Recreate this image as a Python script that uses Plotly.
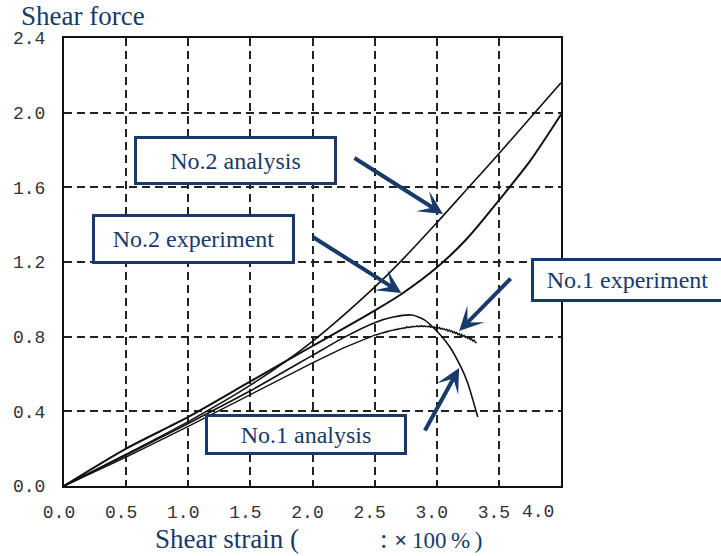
import plotly.graph_objects as go

# ---------------- data ----------------
no2_analysis_x = [0.0, 0.5, 1.0, 1.5, 2.0, 2.5, 2.72, 3.0, 3.25, 3.5, 3.75, 4.0]
no2_analysis_y = [0.0, 0.17, 0.345, 0.54, 0.775, 1.065, 1.21, 1.41, 1.595, 1.78, 1.97, 2.16]

no2_exp_x = [0.0, 0.5, 1.0, 1.5, 2.0, 2.5, 2.72, 3.0, 3.25, 3.5, 3.75, 4.0]
no2_exp_y = [0.0, 0.20, 0.37, 0.56, 0.75, 0.94, 1.03, 1.17, 1.33, 1.53, 1.74, 1.99]

no1_analysis_x = [0.0, 0.5, 1.0, 1.5, 2.0, 2.25, 2.5, 2.65, 2.8, 2.9, 3.0, 3.1, 3.2, 3.25, 3.3, 3.33]
no1_analysis_y = [0.0, 0.165, 0.335, 0.51, 0.70, 0.795, 0.875, 0.905, 0.916, 0.89, 0.83, 0.75, 0.63, 0.55, 0.44, 0.37]

no1_exp_x = [0.0, 0.5, 1.0, 1.5, 2.0, 2.25, 2.40,
             2.50, 2.51, 2.52, 2.53, 2.54, 2.55, 2.56, 2.57, 2.58, 2.59,
             2.60, 2.61, 2.62, 2.63, 2.64, 2.65, 2.66, 2.67, 2.68, 2.69,
             2.70, 2.71, 2.72, 2.73, 2.74, 2.75, 2.76, 2.77, 2.78, 2.79,
             2.80, 2.81, 2.82, 2.83, 2.84, 2.85, 2.86, 2.87, 2.88, 2.89,
             2.90, 2.91, 2.92, 2.93, 2.94, 2.95, 2.96, 2.97, 2.98, 2.99,
             3.00, 3.01, 3.02, 3.03, 3.04, 3.05, 3.06, 3.07, 3.08, 3.09,
             3.10, 3.11, 3.12, 3.13, 3.14, 3.15, 3.16, 3.17, 3.18, 3.19,
             3.20, 3.21, 3.22, 3.23, 3.24, 3.25, 3.26, 3.27, 3.28, 3.29,
             3.30, 3.31, 3.32]
no1_exp_y = [0.0, 0.155, 0.32, 0.49, 0.66, 0.74, 0.782,
             0.809, 0.811, 0.810, 0.815, 0.814, 0.818, 0.821, 0.820, 0.825, 0.823,
             0.829, 0.828, 0.832, 0.831, 0.835, 0.834, 0.838, 0.836, 0.841, 0.839,
             0.844, 0.842, 0.846, 0.844, 0.849, 0.846, 0.853, 0.848, 0.852, 0.850,
             0.855, 0.852, 0.856, 0.853, 0.858, 0.854, 0.857, 0.855, 0.859, 0.854,
             0.858, 0.853, 0.856, 0.852, 0.857, 0.850, 0.854, 0.849, 0.853, 0.847,
             0.851, 0.845, 0.849, 0.841, 0.846, 0.839, 0.842, 0.835, 0.840, 0.830,
             0.836, 0.827, 0.832, 0.821, 0.827, 0.817, 0.822, 0.811, 0.817, 0.806,
             0.812, 0.801, 0.807, 0.796, 0.801, 0.790, 0.796, 0.784, 0.789, 0.777,
             0.782, 0.771, 0.765]

x_tick_vals = [0.0, 0.5, 1.0, 1.5, 2.0, 2.5, 3.0, 3.5]
x_tick_text = ["0.0", "0.5", "1.0", "1.5", "2.0", "2.5", "3.0", "3.5"]
x_last_tick = "4.0"
y_tick_vals = [0.0, 0.4, 0.8, 1.2, 1.6, 2.0, 2.4]
y_tick_text = ["0.0", "0.4", "0.8", "1.2", "1.6", "2.0", "2.4"]

labels = ["No.2 analysis", "No.2 experiment", "No.1 experiment", "No.1 analysis"]

# ---------------- figure ----------------
NAVY = "#173a6a"
INK = "#111111"
TICK = "#333333"
SERIF = "Liberation Serif, Times New Roman, serif"
MONO = "Liberation Mono, Courier New, monospace"

fig = go.Figure()
fig.add_trace(go.Scatter(x=no2_analysis_x, y=no2_analysis_y, mode="lines",
                         line=dict(color=INK, width=1.6, shape="spline", smoothing=0.8),
                         name=labels[0]))
fig.add_trace(go.Scatter(x=no2_exp_x, y=no2_exp_y, mode="lines",
                         line=dict(color=INK, width=2.0, shape="spline", smoothing=0.8),
                         name=labels[1]))
fig.add_trace(go.Scatter(x=no1_analysis_x, y=no1_analysis_y, mode="lines",
                         line=dict(color=INK, width=1.6, shape="spline", smoothing=0.6),
                         name=labels[3]))
fig.add_trace(go.Scatter(x=no1_exp_x, y=no1_exp_y, mode="lines",
                         line=dict(color=INK, width=1.4),
                         name=labels[2]))

L, R, T, B = 64, 160, 38, 70
W, H = 721, 556
PW, PH = W - L - R, H - T - B


def px(xp):
    return (xp - L) / PW


def py(yp):
    return (H - B - yp) / PH


ann = []
# label boxes: (text, centre x px, centre y px, width, height)
boxes = [
    (labels[0], 235, 160, 200, 46),
    (labels[1], 193, 238.5, 200, 47),
    (labels[2], 627, 279.5, 190, 41),
    (labels[3], 305.5, 434, 199, 38),
]
for txt, cx, cy, bw, bh in boxes:
    ann.append(dict(text=txt, xref="paper", yref="paper", x=px(cx), y=py(cy),
                    xanchor="center", yanchor="middle", showarrow=False,
                    width=bw - 3, height=bh - 3, borderpad=0,
                    bordercolor=NAVY, borderwidth=3, bgcolor="white",
                    font=dict(family=SERIF, size=24, color=NAVY)))

# arrows: tip in data coords, tail offset in px
arrows = [
    (3.05, 1.457, -90, -57),
    (2.715, 1.034, -90, -57),
    (3.18, 0.83, 53, -54),
    (3.18, 0.632, -35, 64),
]
for x, y, ax, ay in arrows:
    ann.append(dict(x=x, y=y, xref="x", yref="y", ax=ax, ay=ay, text="",
                    showarrow=True, arrowhead=3, arrowsize=1, arrowwidth=4,
                    arrowcolor=NAVY, standoff=0))

# axis titles
ann.append(dict(text="Shear force", xref="paper", yref="paper", x=px(19), y=py(16),
                xanchor="left", yanchor="middle", showarrow=False,
                font=dict(family=SERIF, size=27, color=NAVY)))
ann.append(dict(text="Shear strain (\u2003\u2003\u2003: "
                     "<span style='font-size:23px'><b>×</b>\u2009100\u2009%\u2009)</span>",
                xref="paper", yref="paper", x=px(153), y=py(539),
                xanchor="left", yanchor="middle", showarrow=False,
                font=dict(family=SERIF, size=27, color=NAVY)))
# squeezed last x tick label
ann.append(dict(text=x_last_tick, xref="paper", yref="paper", x=px(538), y=py(512),
                xanchor="center", yanchor="middle", showarrow=False,
                font=dict(family=MONO, size=18, color=TICK)))

fig.update_layout(
    width=W, height=H,
    margin=dict(l=L, r=R, t=T, b=B, pad=0),
    paper_bgcolor="white", plot_bgcolor="white",
    showlegend=False,
    annotations=ann,
)
fig.update_xaxes(range=[0, 4], tickvals=x_tick_vals, ticktext=x_tick_text,
                 showgrid=True, gridcolor="#222222", gridwidth=2, griddash="8px,5px",
                 showline=True, linecolor=INK, linewidth=2, mirror=True,
                 zeroline=False, ticks="", ticklabelstandoff=8, ticklabelshift=-5,
                 tickfont=dict(family=MONO, size=18, color=TICK))
fig.update_yaxes(range=[0, 2.4], tickvals=y_tick_vals, ticktext=y_tick_text,
                 showgrid=True, gridcolor="#222222", gridwidth=2, griddash="8px,5px",
                 showline=True, linecolor=INK, linewidth=2, mirror=True,
                 zeroline=False, ticks="", ticklabelstandoff=13,
                 tickfont=dict(family=MONO, size=18, color=TICK))

fig.write_html("out.html")
